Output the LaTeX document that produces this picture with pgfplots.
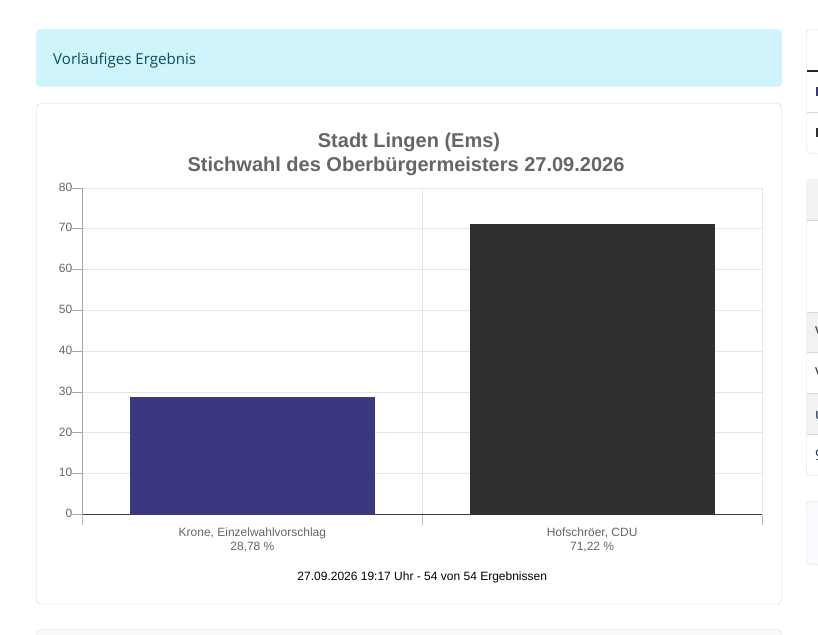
\documentclass[border=0pt]{standalone}
\usepackage{fontspec}
\setmainfont{Liberation Sans}
\newfontfamily\uifont{Open Sans}
\usepackage{pgfplots}
\pgfplotsset{compat=1.18}
\definecolor{gridc}{HTML}{E6E6E6}
\definecolor{cardb}{HTML}{D6D6D6}
\definecolor{labelc}{HTML}{666666}
\definecolor{navyc}{HTML}{3A3980}
\definecolor{darkc}{HTML}{32302E}
\newcommand{\PX}[2]{({#1pt},{634pt-#2pt})}
\begin{document}
\begin{tikzpicture}[x=1pt,y=1pt]
\useasboundingbox (0,0) rectangle (818,634);
\clip (0,0) rectangle (818,634);
\fill[white] (0,0) rectangle (818,634);
% alert
\draw[rounded corners=4pt,fill={rgb,255:red,207;green,244;blue,252},draw={rgb,255:red,182;green,239;blue,251}] \PX{36.5}{29.5} rectangle \PX{781.5}{86.5};
\node[anchor=base west,inner sep=0pt,font=\uifont\fontsize{15.1pt}{17pt}\selectfont,text={rgb,255:red,5;green,81;blue,96}] at \PX{53}{64.7} {Vorläufiges Ergebnis};
% chart card
\draw[rounded corners=4pt,draw=cardb,fill=white] \PX{36.5}{103.5} rectangle \PX{781.5}{604};
% bottom card
\draw[rounded corners=4pt,draw=cardb,fill=white!98!black] \PX{36.5}{629.5} rectangle \PX{781.5}{660};
% right card 1
\draw[rounded corners=4pt,draw=cardb,fill=white] \PX{806.5}{29.5} rectangle \PX{830}{153.5};
\draw[draw=black!85,line width=1.6pt] \PX{807}{71} -- \PX{830}{71};
\draw[draw=cardb] \PX{807}{112.5} -- \PX{830}{112.5};
\fill[navyc] \PX{816}{87} rectangle \PX{830}{96};
\fill[darkc] \PX{816}{128} rectangle \PX{830}{137};
% right card 2
\draw[rounded corners=4pt,draw=cardb,fill=white] \PX{806.5}{179.5} rectangle \PX{830}{475.5};
\fill[black!5] \PX{807}{180} rectangle \PX{830}{220};
\draw[draw=cardb] \PX{807}{220.5} -- \PX{830}{220.5};
\fill[black!5] \PX{807}{312} rectangle \PX{830}{352};
\fill[black!5] \PX{807}{393.5} rectangle \PX{830}{434};
\draw[draw=cardb] \PX{807}{312} -- \PX{830}{312};
\draw[draw=cardb] \PX{807}{352.5} -- \PX{830}{352.5};
\draw[draw=cardb] \PX{807}{393.5} -- \PX{830}{393.5};
\draw[draw=cardb] \PX{807}{434.5} -- \PX{830}{434.5};
\node[anchor=base west,inner sep=0pt,font=\uifont\fontsize{15.1pt}{17pt}\selectfont,text=black!80] at \PX{815}{338} {V};
\node[anchor=base west,inner sep=0pt,font=\uifont\fontsize{15.1pt}{17pt}\selectfont,text=black!80] at \PX{815}{379} {V};
\node[anchor=base west,inner sep=0pt,font=\uifont\fontsize{15.1pt}{17pt}\selectfont,text={rgb,255:red,25;green,45;blue,80}] at \PX{815}{420} {u};
\node[anchor=base west,inner sep=0pt,font=\uifont\fontsize{15.1pt}{17pt}\selectfont,text={rgb,255:red,25;green,45;blue,80}] at \PX{815}{461} {9};
% right card 3
\draw[rounded corners=4pt,draw=cardb,fill=blue!2!white] \PX{806.5}{501.5} rectangle \PX{830}{564.5};
% chart
\begin{axis}[
  at={(82.5pt,119.5pt)}, anchor=south west,
  scale only axis, width=679.5pt, height=326.5pt,
  xmin=0, xmax=2, ymin=0, ymax=80,
  axis x line*=bottom, axis y line*=left,
  x axis line style={draw=black!75,line width=1.4pt,-},
  y axis line style={draw=black!35,line width=0.8pt,-},
  tick align=outside,
  xtick={0,1,2}, xticklabels={},
  major tick length=10pt,
  ytick={0,10,...,80},
  xtick style={draw=black!25,line width=0.8pt},
  ytick style={draw=black!35,line width=0.8pt},
  grid=major, grid style={draw=gridc,line width=0.8pt},
  extra x ticks={0.5,1.5},
  extra x tick labels={{Krone, Einzelwahlvorschlag\\28,78 \%},{Hofschröer, CDU\\71,22 \%}},
  extra x tick style={major tick length=0pt,grid=none,
    tick label style={align=center,font=\fontsize{12pt}{14pt}\selectfont,text=labelc,yshift=-10pt}},
  yticklabel style={font=\fontsize{12pt}{14pt}\selectfont,text=labelc,inner sep=0.5pt,xshift=0.4pt,yshift=1pt},
  /pgf/number format/assume math mode=true,
  title={Stadt Lingen (Ems)\\Stichwahl des Oberbürgermeisters 27.09.2026\hspace{6pt}\mbox{}},
  title style={at={(0.4805,1)},anchor=south,align=center,inner sep=0pt,yshift=6pt,
    font=\bfseries\fontsize{20pt}{24pt}\selectfont,text=labelc},
  xlabel={27.09.2026 19:17 Uhr - 54 von 54 Ergebnissen},
  xlabel style={at={(0.5,0)},anchor=base,yshift=-66pt,inner sep=0pt,
    font=\fontsize{12pt}{14pt}\selectfont,text=black},
  axis on top=false,
  clip=false,
]
\addplot[ybar,bar width=245pt,bar shift=0pt,fill=navyc,draw=none] coordinates {(0.5,28.78)};
\addplot[ybar,bar width=245pt,bar shift=0pt,fill=darkc,draw=none] coordinates {(1.5,71.22)};
\end{axis}
\end{tikzpicture}
\end{document}
